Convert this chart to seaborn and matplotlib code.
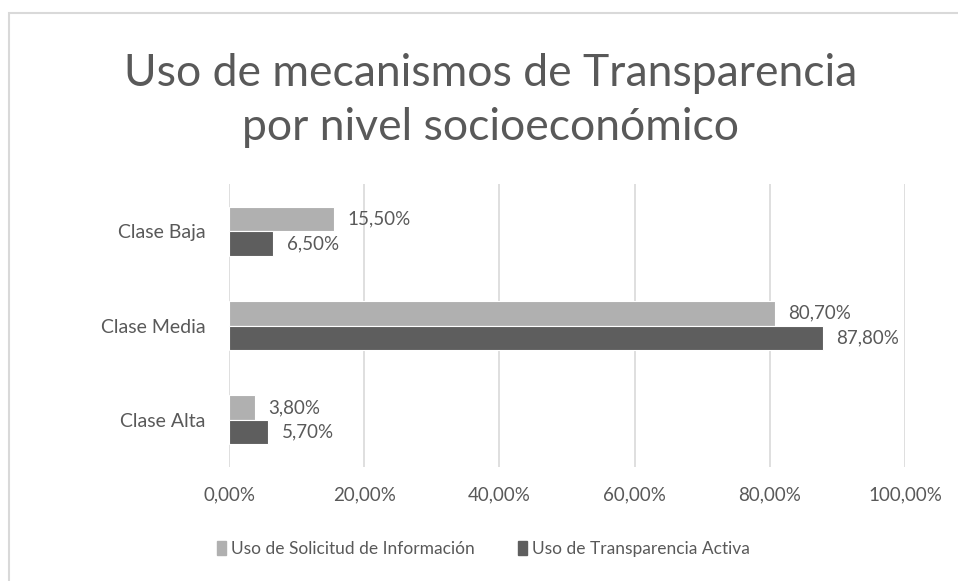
import matplotlib.pyplot as plt
import matplotlib.patches as mpatches
import pandas as pd
import seaborn as sns

# data
categorias = ['Clase Baja', 'Clase Media', 'Clase Alta']
series = ['Uso de Solicitud de Información', 'Uso de Transparencia Activa']
solicitud = [15.5, 80.7, 3.8]
transparencia = [6.5, 87.8, 5.7]
ticks_x = [0, 20, 40, 60, 80, 100]

colores = ['#B0B0B0', '#5E5E5E']
texto = '#595959'


def pct(v):
    return f"{v:.2f}%".replace('.', ',')


def main():
    df = pd.DataFrame({
        'categoria': categorias * 2,
        'serie': [series[0]] * 3 + [series[1]] * 3,
        'valor': solicitud + transparencia,
    })

    sns.set_theme(style="white")
    plt.rcParams['font.family'] = ['Lato', 'DejaVu Sans']

    fig = plt.figure(figsize=(9.58, 5.81), dpi=100)
    ax = fig.add_axes([229 / 958, 1 - 467 / 581, 676 / 958, 283 / 581])

    sns.barplot(data=df, y='categoria', x='valor', hue='serie', hue_order=series,
                order=categorias, palette=colores, saturation=1, width=0.52,
                orient='h', ax=ax, legend=False, zorder=3,
                edgecolor='white', linewidth=0.8)

    for cont in ax.containers:
        ax.bar_label(cont, labels=[pct(b.get_width()) for b in cont],
                     padding=10, fontsize=13.5, color=texto)

    ax.set_xlim(0, 100)
    ax.set_ylim(2.5, -0.5)
    ax.set_xticks(ticks_x)
    ax.set_xticklabels([pct(t) for t in ticks_x], fontsize=13.5, color=texto)
    ax.tick_params(axis='y', labelsize=14, labelcolor=texto, length=0, pad=17)
    ax.tick_params(axis='x', length=0, pad=14)
    ax.xaxis.grid(True, color='#D9D9D9', linewidth=1.2, zorder=0)
    ax.set_xlabel('')
    ax.set_ylabel('')
    for s in ax.spines.values():
        s.set_visible(False)

    fig.text(0.512, 1 - 73 / 581, 'Uso de mecanismos de Transparencia',
             ha='center', va='center', fontsize=32, color=texto)
    fig.text(0.512, 1 - 127 / 581, 'por nivel socioeconómico',
             ha='center', va='center', fontsize=32, color=texto)

    handles = [mpatches.Patch(color=c, label=s) for c, s in zip(colores, series)]
    fig.legend(handles=handles, loc='center', bbox_to_anchor=(0.505, 1 - 549 / 581),
               ncol=2, frameon=False, fontsize=12.5, labelcolor=texto,
               handlelength=0.5, handleheight=0.9, handletextpad=0.3, columnspacing=2.5)

    fig.patches.append(mpatches.Rectangle((9 / 958, -0.1), 1.2, 1.1 - 13 / 581, fill=False,
                                          edgecolor='#D9D9D9', linewidth=1.5,
                                          transform=fig.transFigure, figure=fig))

    fig.savefig('out.png', dpi=100)
    plt.close(fig)


if __name__ == "__main__":
    main()
